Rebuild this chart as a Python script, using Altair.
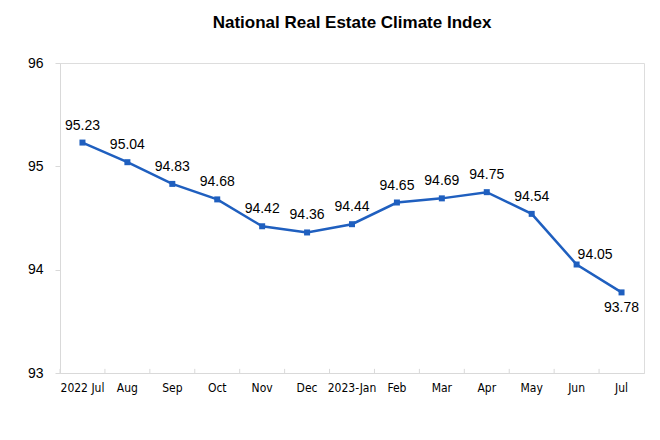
import altair as alt
import pandas as pd

months = ["2022 Jul", "Aug", "Sep", "Oct", "Nov", "Dec", "2023-Jan",
          "Feb", "Mar", "Apr", "May", "Jun", "Jul"]
values = [95.23, 95.04, 94.83, 94.68, 94.42, 94.36, 94.44,
          94.65, 94.69, 94.75, 94.54, 94.05, 93.78]
y_ticks = [93, 94, 95, 96]

df = pd.DataFrame({"month": months, "value": values,
                   "label": [f"{v:.2f}" for v in values]})

BLUE = "#1f5fbf"
GRID = "#d9d9d9"

x_enc = alt.X("month:N", sort=months, title=None,
              scale=alt.Scale(paddingInner=0, paddingOuter=0),
              axis=alt.Axis(labelAngle=0, ticks=False, domainColor=GRID,
                            labelFont="DejaVu Sans Condensed, Liberation Sans Narrow, Liberation Sans",
                            labelFontSize=12, labelColor="#000", labelPadding=9))
y_enc = alt.Y("value:Q", title=None,
              scale=alt.Scale(domain=[93, 96], nice=False, zero=False),
              axis=alt.Axis(values=y_ticks, format="d", grid=False, domainColor=GRID,
                            tickColor=GRID, tickSize=5, labelPadding=12,
                            labelFont="Liberation Sans", labelFontSize=14,
                            labelColor="#000"))

base = alt.Chart(df)

# small inward tick marks at category boundaries on the x axis
band_ticks = base.mark_rule(color=GRID, strokeWidth=1).encode(
    x=alt.X("month:N", sort=months, bandPosition=0),
    y=alt.datum(93), y2=alt.datum(93.04))

line = base.mark_line(color=BLUE, strokeWidth=2.5).encode(x=x_enc, y=y_enc)
pts = base.mark_square(color=BLUE, size=36, opacity=1).encode(x=x_enc, y=y_enc)

txt_style = dict(font="Liberation Sans", fontSize=14, color="#000")
labels_main = base.transform_filter(
    alt.FieldOneOfPredicate(field="month", oneOf=months[:11])
).mark_text(dy=-17, **txt_style).encode(x=x_enc, y=y_enc, text="label:N")
label_jun = base.transform_filter(
    alt.FieldEqualPredicate(field="month", equal="Jun")
).mark_text(align="left", dx=1, dy=-10, **txt_style).encode(x=x_enc, y=y_enc, text="label:N")
label_jul = base.transform_filter(
    alt.FieldEqualPredicate(field="month", equal="Jul")
).mark_text(dy=16, **txt_style).encode(x=x_enc, y=y_enc, text="label:N")

chart = alt.layer(line, band_ticks, pts, labels_main, label_jun, label_jul).properties(
    width=584, height=310,
    autosize=alt.AutoSizeParams(type="none"),
    padding={"left": 52, "top": 55, "right": 8, "bottom": 59},
    title=alt.TitleParams("National Real Estate Climate Index", font="Liberation Sans",
                          fontSize=17, fontWeight="bold", color="#000", offset=24,
                          anchor="middle"),
).configure_view(stroke=GRID, strokeWidth=1).configure(background="white")

chart.save("out.html", embed_options={"renderer": "svg", "actions": False})
